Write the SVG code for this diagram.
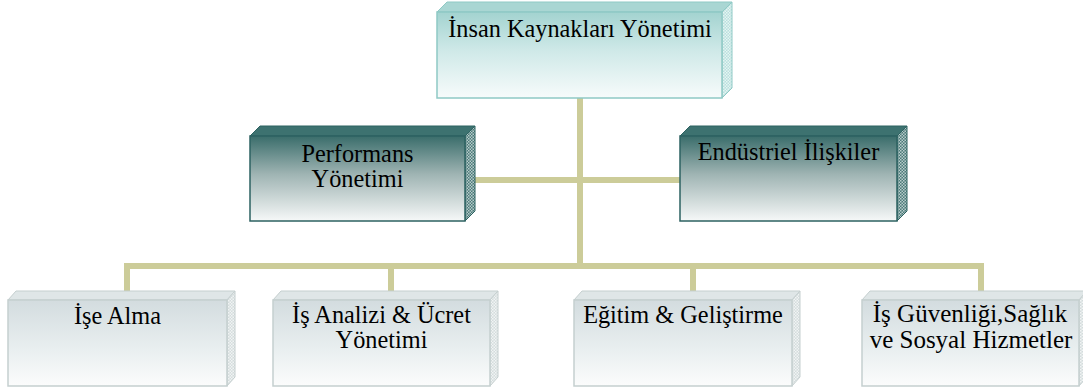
<svg xmlns="http://www.w3.org/2000/svg" width="1083" height="390" viewBox="0 0 1083 390">
  <style>
    text { font-family: 'Liberation Serif', 'DejaVu Serif', serif; font-size: 24.3px; fill: #000; text-anchor: middle; }
    .big { font-size: 25px; }
    .conn { fill: none; stroke: #cccc99; stroke-width: 6; stroke-linecap: butt; stroke-linejoin: miter; }
    .topf { fill: url(#gTop); stroke: #8fc9c5; stroke-width: 1.5; }
    .topb { fill: #a9d6d3; stroke: #8fc9c5; stroke-width: 1; }
    .tops { fill: url(#pTop); stroke: #8fc9c5; stroke-width: 1; }
    .midf { fill: url(#gMid); stroke: #2d6261; stroke-width: 1.5; }
    .midb { fill: #3d7270; stroke: #2d6261; stroke-width: 1; }
    .mids { fill: url(#pMid); stroke: #2d6261; stroke-width: 1; }
    .botf { fill: url(#gBot); stroke: #c5cfcf; stroke-width: 1.5; }
    .botb { fill: #dfe6e7; stroke: #c5cfcf; stroke-width: 1; }
    .bots { fill: url(#pBot); stroke: #c5cfcf; stroke-width: 1; }
  </style>
  <defs>
    <linearGradient id="gTop" x1="0" y1="0" x2="0" y2="1">
      <stop offset="0" stop-color="#a3d3d0"/>
      <stop offset="0.45" stop-color="#cfe9e8"/>
      <stop offset="1" stop-color="#f7fbfb"/>
    </linearGradient>
    <linearGradient id="gMid" x1="0" y1="0" x2="0" y2="1">
      <stop offset="0" stop-color="#3a6d6b"/>
      <stop offset="0.45" stop-color="#9fb4b3"/>
      <stop offset="1" stop-color="#f6f8f8"/>
    </linearGradient>
    <linearGradient id="gBot" x1="0" y1="0" x2="0" y2="1">
      <stop offset="0" stop-color="#d3dcdf"/>
      <stop offset="0.55" stop-color="#e8eeef"/>
      <stop offset="1" stop-color="#fbfcfc"/>
    </linearGradient>
    <pattern id="pTop" width="3" height="3" patternUnits="userSpaceOnUse">
      <rect width="3" height="3" fill="#b8e0dd"/>
      <rect width="1.5" height="1.5" fill="#e6f4f3"/>
      <rect x="1.5" y="1.5" width="1.5" height="1.5" fill="#e6f4f3"/>
    </pattern>
    <pattern id="pMid" width="3" height="3" patternUnits="userSpaceOnUse">
      <rect width="3" height="3" fill="#4a7a78"/>
      <rect width="1.5" height="1.5" fill="#b9cccb"/>
      <rect x="1.5" y="1.5" width="1.5" height="1.5" fill="#b9cccb"/>
    </pattern>
    <pattern id="pBot" width="3" height="3" patternUnits="userSpaceOnUse">
      <rect width="3" height="3" fill="#d4dcdd"/>
      <rect width="1.5" height="1.5" fill="#f1f4f4"/>
      <rect x="1.5" y="1.5" width="1.5" height="1.5" fill="#f1f4f4"/>
    </pattern>
  </defs>

  <g id="connectors">
    <path class="conn" d="M580,98 V266"/>
    <path class="conn" d="M474,180 H682"/>
    <path class="conn" d="M127,292 V266 H981 V292"/>
    <path class="conn" d="M391,266 V292"/>
    <path class="conn" d="M693,266 V292"/>
  </g>

  <g id="node-ikyonetimi">
    <polygon class="topb" points="437,12 447,2 732,2 722,12"/>
    <polygon class="tops" points="722,12 732,2 732,88 722,98"/>
    <rect class="topf" x="437" y="12" width="285" height="86"/>
    <text x="580" y="37">İnsan Kaynakları Yönetimi</text>
  </g>

  <g id="node-performans">
    <polygon class="midb" points="250,136 260,126 475,126 465,136"/>
    <polygon class="mids" points="465,136 475,126 475,211 465,221"/>
    <rect class="midf" x="250" y="136" width="215" height="85"/>
    <text x="357.5" y="162">Performans</text>
    <text x="357.5" y="187">Yönetimi</text>
  </g>

  <g id="node-endustriel">
    <polygon class="midb" points="680,136 690,126 907,126 897,136"/>
    <polygon class="mids" points="897,136 907,126 907,211 897,221"/>
    <rect class="midf" x="680" y="136" width="217" height="85"/>
    <text x="788.5" y="160">Endüstriel İlişkiler</text>
  </g>

  <g id="node-isealma">
    <polygon class="botb" points="8,300 16,291 235,291 227,300"/>
    <polygon class="bots" points="227,300 235,291 235,377 227,386"/>
    <rect class="botf" x="8" y="300" width="219" height="86"/>
    <text x="117.5" y="324">İşe Alma</text>
  </g>

  <g id="node-isanalizi">
    <polygon class="botb" points="273,300 281,291 498,291 490,300"/>
    <polygon class="bots" points="490,300 498,291 498,377 490,386"/>
    <rect class="botf" x="273" y="300" width="217" height="86"/>
    <text x="381.5" y="323">İş Analizi &amp; Ücret</text>
    <text x="381.5" y="348">Yönetimi</text>
  </g>

  <g id="node-egitim">
    <polygon class="botb" points="574,300 582,291 800,291 792,300"/>
    <polygon class="bots" points="792,300 800,291 800,377 792,386"/>
    <rect class="botf" x="574" y="300" width="218" height="86"/>
    <text x="683" y="323">Eğitim &amp; Geliştirme</text>
  </g>

  <g id="node-isguvenligi">
    <polygon class="botb" points="862,300 870,291 1087,291 1079,300"/>
    <polygon class="bots" points="1079,300 1087,291 1087,377 1079,386"/>
    <rect class="botf" x="862" y="300" width="217" height="86"/>
    <text class="big" x="970" y="322">İş Güvenliği,Sağlık</text>
    <text class="big" x="971" y="348">ve Sosyal Hizmetler</text>
  </g>
</svg>
